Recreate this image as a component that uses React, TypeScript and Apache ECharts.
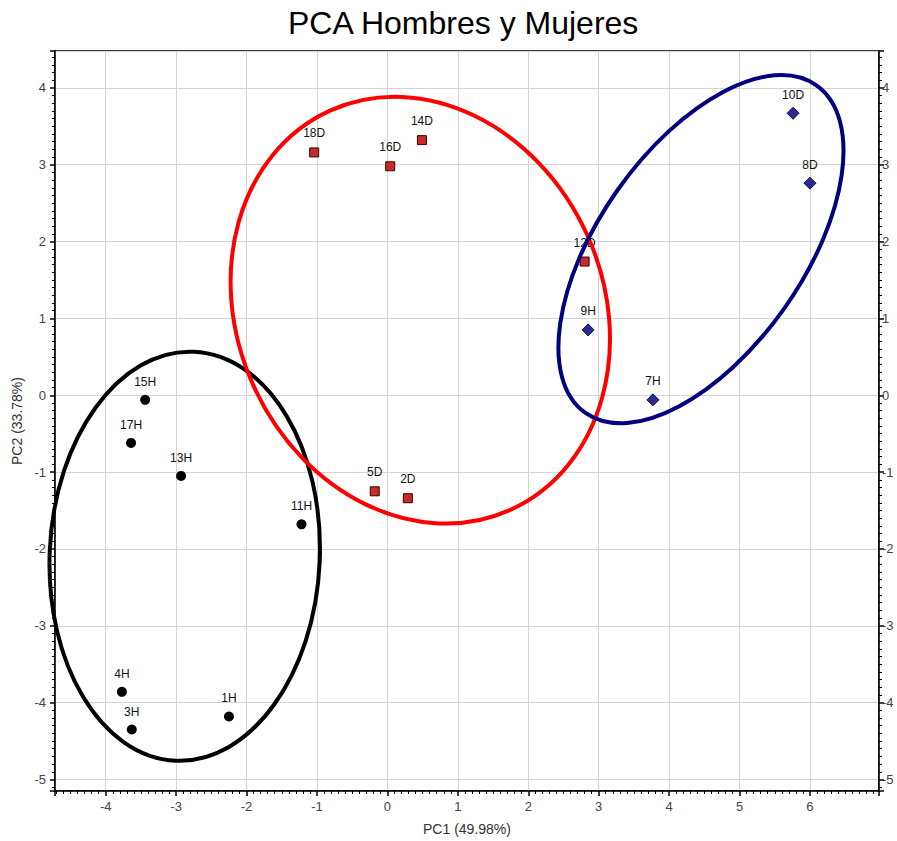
import React, { useEffect, useRef } from "react";
import * as echarts from "echarts";

const blackNames = ["1H", "3H", "4H", "11H", "13H", "15H", "17H"];
const blackX = [-2.25, -3.63, -3.77, -1.22, -2.93, -3.44, -3.64];
const blackY = [-4.18, -4.35, -3.86, -1.68, -1.05, -0.06, -0.62];

const redNames = ["2D", "5D", "12D", "14D", "16D", "18D"];
const redX = [0.29, -0.18, 2.8, 0.49, 0.04, -1.04];
const redY = [-1.34, -1.25, 1.74, 3.32, 2.98, 3.16];

const blueNames = ["7H", "9H", "8D", "10D"];
const blueX = [3.77, 2.85, 6.0, 5.76];
const blueY = [-0.06, 0.85, 2.76, 3.67];

// Ellipses: center x, center y, half width (x units), half height (y units), rotation (deg)
const ellCx = [-2.878, 0.467, 4.452];
const ellCy = [-2.095, 1.107, 1.901];
const ellRx = [1.918, 2.6, 1.452];
const ellRy = [2.663, 2.85, 2.609];
const ellRot = [-2.5, 24.3, -35.2];
const ellColors = ["#000000", "#ff0000", "#000080"];

const X_MIN = -4.72;
const X_MAX = 6.98;
const Y_MIN = -5.15;
const Y_MAX = 4.48;

const FONT = "'Liberation Sans', Arial, sans-serif";

function pts(xs: number[], ys: number[], names: string[]) {
  return xs.map((x, i) => [x, ys[i], names[i]]);
}

export default function App() {
  const ref = useRef<HTMLDivElement>(null);
  useEffect(() => {
    if (!ref.current) return;
    document.body.style.margin = "0";
    const chart = echarts.init(ref.current, undefined, { renderer: "svg" });
    const labelCfg = (dist: number) => ({
      show: true,
      position: "top" as const,
      distance: dist,
      formatter: (p: any) => p.value[2],
      color: "#111",
      fontSize: 12,
      fontFamily: FONT,
    });
    const ellData = ellCx.map((cx, i) => [cx, ellCy[i], ellRx[i], ellRy[i], ellRot[i]]);
    const axisCommon = {
      axisLine: { show: true, onZero: false, lineStyle: { color: "#000", width: 1.5 } },
      axisTick: { show: true, length: 5, lineStyle: { color: "#000", width: 1.5 } },
      minorTick: { show: true, splitNumber: 10, length: 3, lineStyle: { color: "#000", width: 1 } },
    };
    const labelCommon = {
      show: true,
      fontSize: 13,
      color: "#444",
      fontFamily: FONT,
      showMinLabel: false,
      showMaxLabel: false,
    };
    chart.setOption({
      animation: false,
      backgroundColor: "#ffffff",
      title: {
        text: "PCA Hombres y Mujeres",
        left: 283,
        top: 2,
        textStyle: { fontSize: 32, fontWeight: "normal", color: "#000", fontFamily: FONT },
      },
      grid: {
        left: 55,
        right: 18,
        top: 51,
        bottom: 50,
        show: true,
        borderColor: "#000",
        borderWidth: 1.5,
        containLabel: false,
      },
      xAxis: {
        type: "value",
        min: X_MIN,
        max: X_MAX,
        splitNumber: 10,
        name: "PC1 (49.98%)",
        nameLocation: "middle",
        nameGap: 31,
        nameTextStyle: { fontSize: 14, color: "#333", fontFamily: FONT },
        ...axisCommon,
        axisLabel: { ...labelCommon, margin: 9 },
        splitLine: { show: true, lineStyle: { color: "#d4d4d4", width: 1 } },
      },
      yAxis: [
        {
          type: "value",
          min: Y_MIN,
          max: Y_MAX,
          splitNumber: 10,
          name: "PC2 (33.78%)",
          nameLocation: "middle",
          nameGap: 30,
          nameTextStyle: { fontSize: 14, color: "#333", fontFamily: FONT },
          ...axisCommon,
          axisLabel: { ...labelCommon, margin: 9 },
          splitLine: { show: true, lineStyle: { color: "#d4d4d4", width: 1 } },
        },
        {
          type: "value",
          position: "right",
          min: Y_MIN,
          max: Y_MAX,
          splitNumber: 10,
          ...axisCommon,
          axisLabel: { ...labelCommon, margin: 3 },
          splitLine: { show: false },
        },
      ],
      series: [
        {
          type: "scatter",
          name: "H",
          data: pts(blackX, blackY, blackNames),
          symbol: "circle",
          symbolSize: 10,
          itemStyle: { color: "#000", opacity: 1 },
          label: labelCfg(7),
          z: 3,
        },
        {
          type: "scatter",
          name: "D",
          data: pts(redX, redY, redNames),
          symbol: "rect",
          symbolSize: 9,
          itemStyle: { color: "#c62a2a", borderColor: "#3a0000", borderWidth: 1, opacity: 1 },
          label: labelCfg(8),
          z: 3,
        },
        {
          type: "scatter",
          name: "B",
          data: pts(blueX, blueY, blueNames),
          symbol: "diamond",
          symbolSize: 12,
          itemStyle: { color: "#2b2b98", borderColor: "#10104a", borderWidth: 1, opacity: 1 },
          label: labelCfg(6),
          z: 3,
        },
        {
          type: "custom",
          name: "ellipses",
          data: ellData,
          clip: false,
          z: 5,
          silent: true,
          renderItem: (params: any, api: any) => {
            const c = api.coord([api.value(0), api.value(1)]);
            const s = api.size([api.value(2), api.value(3)]);
            return {
              type: "ellipse",
              x: c[0],
              y: c[1],
              rotation: (api.value(4) * Math.PI) / 180,
              shape: { cx: 0, cy: 0, rx: s[0], ry: s[1] },
              style: { fill: "none", stroke: ellColors[params.dataIndex], lineWidth: 4 },
            };
          },
        },
      ],
    });
    return () => chart.dispose();
  }, []);
  return <div ref={ref} style={{ width: 897, height: 841 }} />;
}
